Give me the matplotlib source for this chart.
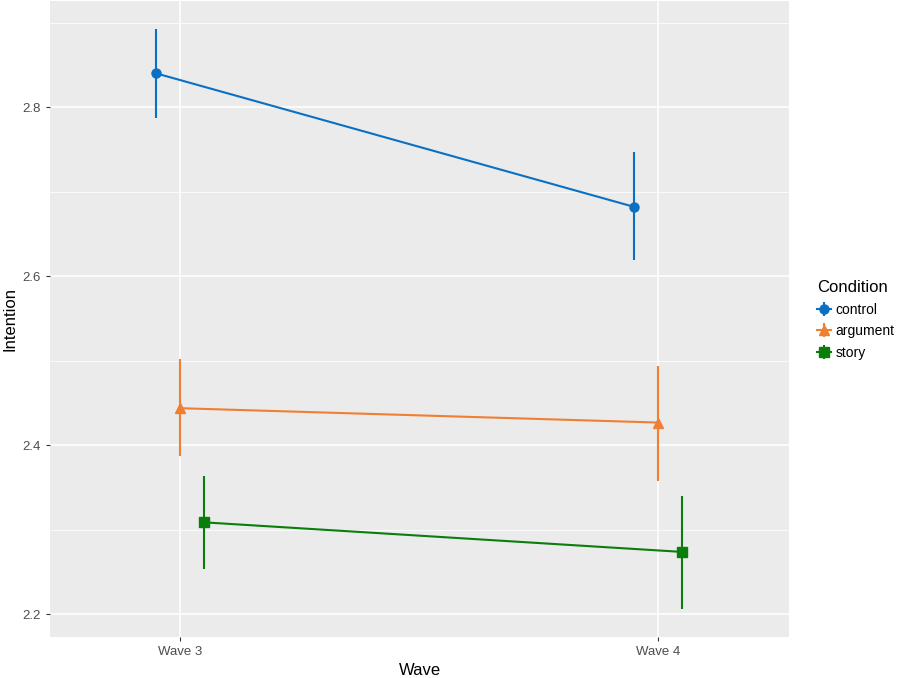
import matplotlib
matplotlib.use('Agg')
import matplotlib.pyplot as plt
import numpy as np

plt.rcParams['font.family'] = ['Liberation Sans', 'DejaVu Sans']

# data
waves = ['Wave 3', 'Wave 4']
conditions = ['control', 'argument', 'story']
means = {
    'control': [2.840, 2.682],
    'argument': [2.444, 2.427],
    'story': [2.309, 2.274],
}
lower = {
    'control': [2.787, 2.619],
    'argument': [2.388, 2.358],
    'story': [2.254, 2.207],
}
upper = {
    'control': [2.892, 2.747],
    'argument': [2.502, 2.494],
    'story': [2.364, 2.340],
}

colors = {'control': '#0A70C4', 'argument': '#EF7F32', 'story': '#0A7D0A'}
markers = {'control': 'o', 'argument': '^', 'story': 's'}
offsets = {'control': -0.05, 'argument': 0.0, 'story': 0.05}

fig = plt.figure(figsize=(9, 6.78), dpi=100)
ax = fig.add_axes([0.0556, 0.060, 0.821, 0.939])
ax.set_facecolor('#EBEBEB')

x = np.arange(1, len(waves) + 1)
handles = []
for cond in conditions:
    xs = x + offsets[cond]
    m = np.array(means[cond])
    yerr = [m - np.array(lower[cond]), np.array(upper[cond]) - m]
    h = ax.errorbar(xs, m, yerr=yerr, fmt='-', marker=markers[cond],
                    color=colors[cond], ms=6.5 if cond != 'argument' else 7.5,
                    lw=1.5, elinewidth=1.5, capsize=0, label=cond, zorder=3)
    handles.append(h)

ax.set_xlim(0.728, 2.273)
ax.set_ylim(2.173, 2.926)
ax.set_xticks(x)
ax.set_xticklabels(waves)
ax.set_yticks([2.2, 2.4, 2.6, 2.8])
ax.set_yticks([2.3, 2.5, 2.7, 2.9], minor=True)

ax.grid(True, which='major', color='white', lw=1.1, zorder=0)
ax.grid(True, which='minor', axis='y', color='white', lw=0.55, zorder=0)
ax.set_axisbelow(True)
for s in ax.spines.values():
    s.set_visible(False)
ax.tick_params(axis='both', which='major', length=3, width=0.8, color='#333333',
               labelcolor='#4D4D4D', labelsize=9.5)
ax.tick_params(axis='y', which='minor', length=0)

ax.set_xlabel('Wave', fontsize=12, labelpad=3)
ax.set_ylabel('Intention', fontsize=12, labelpad=4)

leg = ax.legend(handles=handles, labels=conditions, title='Condition',
                loc='upper left', bbox_to_anchor=(1.03, 0.57), frameon=False,
                fontsize=10, title_fontsize=12, handlelength=1.0,
                handletextpad=0.35, labelspacing=0.55, borderaxespad=0)
leg._legend_box.align = 'left'

fig.savefig('out.png', dpi=100)
